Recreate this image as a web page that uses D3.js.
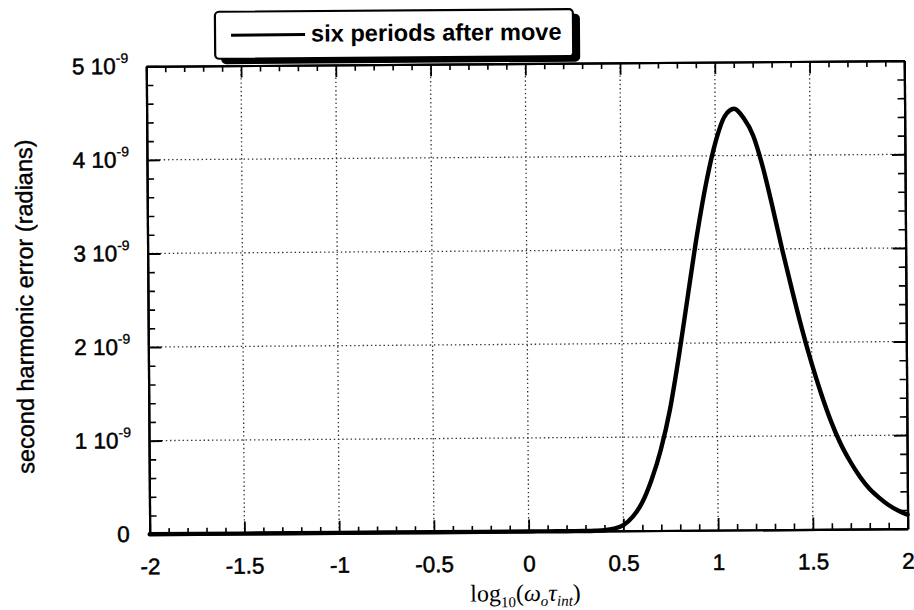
<!DOCTYPE html>
<html>
<head>
<meta charset="utf-8">
<script src="https://cdn.jsdelivr.net/npm/d3@7"></script>
<style>
  html, body { margin: 0; padding: 0; background: #fff; }
  svg { display: block; }
  .sans { font-family: "Liberation Sans", Arial, Helvetica, sans-serif; fill: #000; }
  .serif { font-family: "Liberation Serif", "Times New Roman", Times, serif; fill: #000; }
</style>
</head>
<body>
<svg id="chart" width="914" height="610"></svg>
<script>
// log10(omega_o * tau_int)
const logOmegaTau = [-2, -1.5, -1, -0.5, 0, 0.1, 0.2, 0.3, 0.35, 0.4, 0.45, 0.5, 0.55, 0.6,
  0.65, 0.7, 0.75, 0.8, 0.85, 0.9, 0.95, 1.0, 1.05, 1.1, 1.15, 1.2, 1.25, 1.3, 1.35,
  1.4, 1.45, 1.5, 1.55, 1.6, 1.65, 1.7, 1.75, 1.8, 1.85, 1.9, 1.95, 2.0];
// second harmonic error, in units of 1e-9 radians
const harmonicError = [0, 0, 0, 0, 0, 0, 0, 0.001, 0.003, 0.008, 0.024, 0.06, 0.15, 0.30,
  0.54, 0.86, 1.29, 1.87, 2.52, 3.16, 3.71, 4.14, 4.42, 4.50, 4.40, 4.21, 3.87, 3.44, 2.98,
  2.55, 2.14, 1.77, 1.44, 1.15, 0.91, 0.72, 0.56, 0.43, 0.335, 0.255, 0.195, 0.15];

const xMajorTicks = [-2, -1.5, -1, -0.5, 0, 0.5, 1, 1.5, 2];
const xTickLabels = ["-2", "-1.5", "-1", "-0.5", "0", "0.5", "1", "1.5", "2"];
const xMinorTicks = [-1.9, -1.8, -1.7, -1.6, -1.4, -1.3, -1.2, -1.1, -0.9, -0.8, -0.7, -0.6,
  -0.4, -0.3, -0.2, -0.1, 0.1, 0.2, 0.3, 0.4, 0.6, 0.7, 0.8, 0.9, 1.1, 1.2, 1.3, 1.4,
  1.6, 1.7, 1.8, 1.9];
const yMajorTicks = [0, 1, 2, 3, 4, 5];
const yTickMantissa = ["0", "1", "2", "3", "4", "5"];
const yTickExponent = ["", "-9", "-9", "-9", "-9", "-9"];
const yMinorTicks = [0.2, 0.4, 0.6, 0.8, 1.2, 1.4, 1.6, 1.8, 2.2, 2.4, 2.6, 2.8,
  3.2, 3.4, 3.6, 3.8, 4.2, 4.4, 4.6, 4.8];
const seriesName = "six periods after move";

const svg = d3.select("#chart");
const root = svg.append("g").attr("transform", "rotate(-0.42,527,300)");

const plotLeft = 148, plotRight = 906, plotTop = 63.5, plotBottom = 531.5;
const x = d3.scaleLinear().domain([-2, 2]).range([plotLeft, plotRight]);
const y = d3.scaleLinear().domain([0, 5]).range([plotBottom, plotTop]);

// dotted grid
const grid = root.append("g").attr("stroke", "#333").attr("stroke-width", 1.3)
  .attr("stroke-dasharray", "1.4,2.8").attr("fill", "none");
grid.selectAll("line.gx").data(xMajorTicks.slice(1, -1)).join("line")
  .attr("x1", d => x(d)).attr("x2", d => x(d)).attr("y1", plotTop).attr("y2", plotBottom);
grid.selectAll("line.gy").data(yMajorTicks.slice(1, -1)).join("line")
  .attr("y1", d => y(d)).attr("y2", d => y(d)).attr("x1", plotLeft).attr("x2", plotRight);

function styleAxis(g, w) {
  g.select(".domain").attr("stroke", "#000").attr("stroke-width", 2.2);
  g.selectAll(".tick line").attr("stroke", "#000").attr("stroke-width", w);
}

// bottom axis: minor then major ticks pointing inward
root.append("g").attr("transform", `translate(0,${plotBottom})`)
  .call(d3.axisBottom(x).tickValues(xMinorTicks).tickSizeInner(-6).tickSizeOuter(0).tickFormat(""))
  .call(g => styleAxis(g, 1.6));
const xAxis = root.append("g").attr("transform", `translate(0,${plotBottom})`)
  .call(d3.axisBottom(x).tickValues(xMajorTicks).tickSizeInner(-12).tickSizeOuter(0)
    .tickPadding(24).tickFormat((d, i) => xTickLabels[i]))
  .call(g => styleAxis(g, 1.8));
xAxis.selectAll("text").attr("class", "sans").attr("font-size", 22.5)
  .attr("stroke", "#000").attr("stroke-width", 0.5).attr("fill", "#000");

// top axis
root.append("g").attr("transform", `translate(0,${plotTop})`)
  .call(d3.axisTop(x).tickValues(xMinorTicks).tickSizeInner(-6).tickSizeOuter(0).tickFormat(""))
  .call(g => styleAxis(g, 1.6));
root.append("g").attr("transform", `translate(0,${plotTop})`)
  .call(d3.axisTop(x).tickValues(xMajorTicks).tickSizeInner(-12).tickSizeOuter(0).tickFormat(""))
  .call(g => styleAxis(g, 1.8));

// left axis
root.append("g").attr("transform", `translate(${plotLeft},0)`)
  .call(d3.axisLeft(y).tickValues(yMinorTicks).tickSizeInner(-7).tickSizeOuter(0).tickFormat(""))
  .call(g => styleAxis(g, 1.6));
root.append("g").attr("transform", `translate(${plotLeft},0)`)
  .call(d3.axisLeft(y).tickValues(yMajorTicks).tickSizeInner(-13).tickSizeOuter(0).tickFormat(""))
  .call(g => styleAxis(g, 2));

// right axis
root.append("g").attr("transform", `translate(${plotRight},0)`)
  .call(d3.axisRight(y).tickValues(yMinorTicks).tickSizeInner(-7).tickSizeOuter(0).tickFormat(""))
  .call(g => styleAxis(g, 1.6));
root.append("g").attr("transform", `translate(${plotRight},0)`)
  .call(d3.axisRight(y).tickValues(yMajorTicks).tickSizeInner(-13).tickSizeOuter(0).tickFormat(""))
  .call(g => styleAxis(g, 2));

// y tick labels with superscript exponent
const yl = root.append("g").attr("class", "sans");
yMajorTicks.forEach((v, i) => {
  const t = yl.append("text").attr("text-anchor", "end")
    .attr("x", yTickExponent[i] ? 130 : 128).attr("y", y(v) + 7.5)
    .attr("font-size", 22.5).attr("stroke", "#000").attr("stroke-width", 0.5);
  t.append("tspan").text(yTickMantissa[i] + (yTickExponent[i] ? " 10" : ""));
  if (yTickExponent[i]) {
    t.append("tspan").attr("dy", -11).attr("font-size", 14).attr("stroke-width", 0.3)
      .text(yTickExponent[i]);
  }
});

// curve
const line = d3.line().x((d, i) => x(logOmegaTau[i])).y(d => y(d)).curve(d3.curveMonotoneX);
root.append("path").datum(harmonicError).attr("d", line)
  .attr("fill", "none").attr("stroke", "#000").attr("stroke-width", 4.4)
  .attr("stroke-linejoin", "round").attr("stroke-linecap", "round");

// axis titles
root.append("text").attr("class", "sans").attr("text-anchor", "middle")
  .attr("transform", "translate(33,303) rotate(-90)")
  .attr("font-size", 23.5).attr("stroke", "#000").attr("stroke-width", 0.4)
  .text("second harmonic error (radians)");

const xt = root.append("text").attr("class", "serif").attr("x", 468).attr("y", 601)
  .attr("font-size", 24);
xt.append("tspan").text("log");
xt.append("tspan").attr("dy", 6).attr("font-size", 15).text("10");
xt.append("tspan").attr("dy", -6).text("(");
xt.append("tspan").attr("font-style", "italic").text("\u03C9");
xt.append("tspan").attr("dy", 5).attr("font-size", 15).attr("font-style", "italic").text("o");
xt.append("tspan").attr("dy", -5).attr("font-style", "italic").text("\u03C4");
xt.append("tspan").attr("dy", 5).attr("font-size", 15).attr("font-style", "italic").text("int");
xt.append("tspan").attr("dy", -5).text(")");

// legend with drop shadow
const lg = root.append("g");
lg.append("rect").attr("x", 223).attr("y", 14).attr("width", 359).attr("height", 48)
  .attr("rx", 5).attr("fill", "#000");
lg.append("rect").attr("x", 217).attr("y", 9.5).attr("width", 358).attr("height", 47)
  .attr("rx", 4).attr("fill", "#fff").attr("stroke", "#000").attr("stroke-width", 2.2);
lg.append("line").attr("x1", 233).attr("x2", 307).attr("y1", 33).attr("y2", 33)
  .attr("stroke", "#000").attr("stroke-width", 3);
lg.append("text").attr("class", "sans").attr("x", 313).attr("y", 40)
  .attr("font-size", 23.6).attr("font-weight", "bold").text(seriesName);
</script>
</body>
</html>
